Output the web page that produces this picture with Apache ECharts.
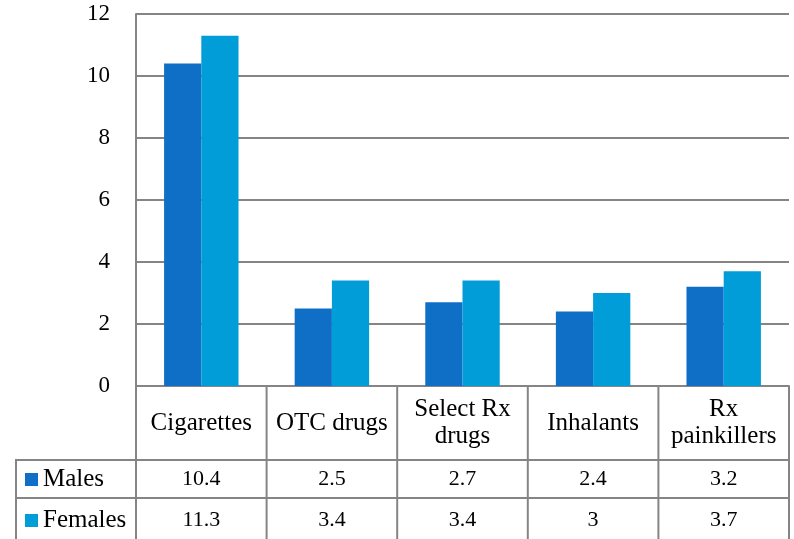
<!DOCTYPE html>
<html><head><meta charset="utf-8">
<script src="https://cdn.jsdelivr.net/npm/echarts@6/dist/echarts.min.js"></script>
<style>html,body{margin:0;padding:0;background:#fff}#c{width:794px;height:539px}</style>
</head><body><div id="c"></div>
<script>
const categories = ['Cigarettes', 'OTC drugs', 'Select Rx\ndrugs', 'Inhalants', 'Rx\npainkillers'];
const males = [10.4, 2.5, 2.7, 2.4, 3.2];
const females = [11.3, 3.4, 3.4, 3, 3.7];
const seriesNames = ['Males', 'Females'];
const yTicks = [0, 2, 4, 6, 8, 10, 12];

const FONT = 'Liberation Serif';
const LINE = '#858585';
const G = {left: 136, right: 5, top: 14, bottom: 153};
const W = 794, H = 539;

const chart = echarts.init(document.getElementById('c'));
const baseX = {
  type: 'category', data: categories, position: 'bottom',
  axisTick: {show: false}, splitLine: {show: false}
};
const legendBase = {
  orient: 'horizontal', left: 20, itemWidth: 13, itemHeight: 13, icon: 'rect', selectedMode: false,
  textStyle: {fontFamily: FONT, fontSize: 25, color: '#000', padding: [0, 0, 0, 0]}
};
chart.setOption({
  animation: false,
  textStyle: {fontFamily: FONT},
  grid: {left: G.left, right: G.right, top: G.top, bottom: G.bottom},
  legend: [
    Object.assign({}, legendBase, {data: [seriesNames[0]], top: 462}),
    Object.assign({}, legendBase, {data: [seriesNames[1]], top: 503})
  ],
  xAxis: [
    Object.assign({}, baseX, {
      axisLine: {show: true, lineStyle: {color: LINE, width: 2}},
      axisLabel: {fontFamily: FONT, fontSize: 25, color: '#000', lineHeight: 27, margin: 37, verticalAlign: 'middle', interval: 0}
    }),
    Object.assign({}, baseX, {
      axisLine: {show: false},
      axisLabel: {fontFamily: FONT, fontSize: 22, color: '#000', margin: 93, verticalAlign: 'middle', interval: 0,
        formatter: (v, i) => String(males[i])}
    }),
    Object.assign({}, baseX, {
      axisLine: {show: false},
      axisLabel: {fontFamily: FONT, fontSize: 22, color: '#000', margin: 134, verticalAlign: 'middle', interval: 0,
        formatter: (v, i) => String(females[i])}
    })
  ],
  yAxis: {
    type: 'value', min: yTicks[0], max: yTicks[yTicks.length - 1], interval: 2,
    axisLine: {show: true, lineStyle: {color: LINE, width: 2}},
    axisTick: {show: false},
    axisLabel: {fontFamily: FONT, fontSize: 23, color: '#000', margin: 26},
    splitLine: {lineStyle: {color: LINE, width: 2}}
  },
  series: [
    {name: seriesNames[0], type: 'bar', data: males, barGap: '0%', barCategoryGap: '43%',
      itemStyle: {color: '#0F6FC6'}},
    {name: seriesNames[1], type: 'bar', data: females,
      itemStyle: {color: '#009DD9'}}
  ]
});

// table lines derived from axis scale
const axisY = chart.convertToPixel({yAxisIndex: 0}, 0);
const c0 = chart.convertToPixel({xAxisIndex: 0}, 0);
const c1 = chart.convertToPixel({xAxisIndex: 0}, 1);
const band = c1 - c0;
const rowTop1 = 460, rowTop2 = 498, tableLeft = 16;
const els = [];
const st = {stroke: LINE, lineWidth: 2};
for (let i = 0; i <= categories.length; i++) {
  const x = c0 - band / 2 + i * band;
  els.push({type: 'line', shape: {x1: x, y1: axisY, x2: x, y2: H}, style: st, z: 10});
}
const right = c0 - band / 2 + categories.length * band;
els.push({type: 'line', shape: {x1: tableLeft, y1: rowTop1, x2: right, y2: rowTop1}, style: st, z: 10});
els.push({type: 'line', shape: {x1: tableLeft, y1: rowTop2, x2: right, y2: rowTop2}, style: st, z: 10});
els.push({type: 'line', shape: {x1: tableLeft, y1: rowTop1 - 1, x2: tableLeft, y2: H}, style: st, z: 10});
chart.setOption({graphic: els});
</script></body></html>
